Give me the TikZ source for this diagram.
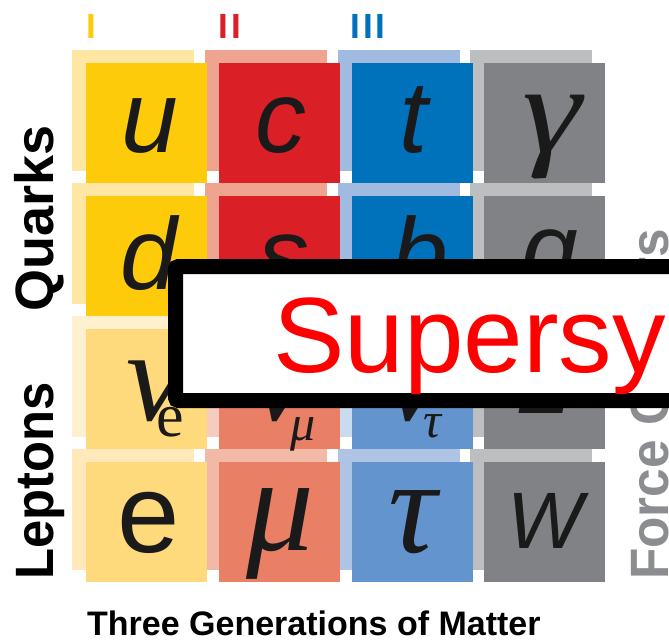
\documentclass[tikz,border=0pt]{standalone}
\usepackage{fontspec}
\setmainfont{Liberation Sans}
\newfontfamily\greekfont{Liberation Serif}

% generation colours: front squares and the lighter squares behind them
\definecolor{yQf}{HTML}{FDCB0A}\definecolor{yQb}{HTML}{FFE6A3}
\definecolor{yLf}{HTML}{FFDA7C}\definecolor{yNb}{HTML}{FFF0CF}\definecolor{yEb}{HTML}{FFE9BA}
\definecolor{rQf}{HTML}{DB1F26}\definecolor{rQb}{HTML}{EEA48E}
\definecolor{rLf}{HTML}{E97F65}\definecolor{rNb}{HTML}{F5CDBF}\definecolor{rEb}{HTML}{F3B9A7}
\definecolor{bQf}{HTML}{0071BB}\definecolor{bQb}{HTML}{A0BAE0}
\definecolor{bLf}{HTML}{6394CD}\definecolor{bNb}{HTML}{CADBF0}\definecolor{bEb}{HTML}{AFC3E4}
\definecolor{gAf}{HTML}{808285}\definecolor{gAb}{HTML}{BDBEC0}
\definecolor{forcegray}{HTML}{8C8D90}
\definecolor{glyph}{HTML}{1A1A1A}

\tikzset{
  sanslet/.style={inner sep=0pt, anchor=base, text=glyph, font=\itshape\fontsize{102}{102}\selectfont},
  wlet/.style={inner sep=0pt, anchor=base, text=glyph, font=\itshape\fontsize{80}{80}\selectfont},
  greeklet/.style={inner sep=0pt, anchor=base, text=glyph, font=\greekfont\itshape\fontsize{135}{135}\selectfont},
  nulet/.style={inner sep=0pt, anchor=base west, text=glyph, font=\greekfont\itshape\fontsize{130}{130}\selectfont},
  sublet/.style={inner sep=0pt, anchor=base west, text=glyph, font=\greekfont\itshape\fontsize{50}{50}\selectfont},
  sidelabel/.style={inner sep=0pt, anchor=base west, rotate=90, font=\bfseries\fontsize{54}{54}\selectfont},
  genlabel/.style={inner sep=0pt, anchor=base, font=\bfseries\fontsize{35}{35}\selectfont},
}

\begin{document}
\begin{tikzpicture}[x=1pt, y=-1pt]
\useasboundingbox (0,0) rectangle (669,641);
\clip (0,0) rectangle (669,641);

% lighter squares set behind and up-left of each cell
\foreach \i/\j/\c in {0/0/yQb,0/1/yQb,0/2/yNb,0/3/yEb,
                      1/0/rQb,1/1/rQb,1/2/rNb,1/3/rEb,
                      2/0/bQb,2/1/bQb,2/2/bNb,2/3/bEb,
                      3/0/gAb,3/1/gAb,3/2/gAb,3/3/gAb}{
  \pgfmathsetmacro\cx{86+132.8*\i-14}
  \pgfmathsetmacro\cy{63+133*\j-13}
  \fill[\c] (\cx,\cy) rectangle ++(122,121);
}
% front squares
\foreach \i/\j/\c in {0/0/yQf,0/1/yQf,0/2/yLf,0/3/yLf,
                      1/0/rQf,1/1/rQf,1/2/rLf,1/3/rLf,
                      2/0/bQf,2/1/bQf,2/2/bLf,2/3/bLf,
                      3/0/gAf,3/1/gAf,3/2/gAf,3/3/gAf}{
  \pgfmathsetmacro\cx{86+132.8*\i}
  \pgfmathsetmacro\cy{63+133*\j}
  \fill[\c] (\cx,\cy) rectangle ++(121,120);
}

% quarks
\node[sanslet] (up)    at (150,152) {u};
\node[sanslet] (charm) at (281,152) {c};
\node[sanslet] (top)   at (414,152) {t};
\node[greeklet, font=\greekfont\itshape\fontsize{125}{125}\selectfont] (photon) at (552,152) {\scalebox{1.2}[1]{γ}};
\node[sanslet] (down)    at (149,289) {d};
\node[sanslet] (strange) at (284,289) {s};
\node[sanslet] (bottom)  at (420,289) {b};
\node[sanslet] (gluon)   at (550,284) {g};

% neutrinos
\node[nulet] (nue)   at (126,420) {ν};
\node[inner sep=0pt, anchor=base west, text=glyph, font=\greekfont\fontsize{62}{62}\selectfont] (nuesub) at (156,436) {e};
\node[nulet] (numu)  at (251,420) {ν};
\node[sublet] (numusub) at (290,440) {μ};
\node[nulet] (nutau) at (384,420) {ν};
\node[sublet] (nutausub) at (423,437) {τ};
\node[wlet] (zboson) at (545,413) {Z};

% charged leptons
\node[inner sep=0pt, anchor=base, text=glyph, font=\fontsize{112}{112}\selectfont] (electron) at (149,552) {e};
\node[greeklet] (muon) at (280,550) {μ};
\node[greeklet] (tau)  at (413,552) {τ};
\node[wlet] (wboson) at (545,548) {W};

% generation numerals
\node[genlabel, text=yQf] (genI)   at (91,38)  {I};
\node[genlabel, text=rQf] (genII)  at (230,38) {I\kern3pt I};
\node[genlabel, text=bQf] (genIII) at (368,38) {I\kern2.5pt I\kern2.5pt I};

% side and bottom captions
\node[sidelabel] (quarks)  at (53,312) {Quarks};
\node[sidelabel] (leptons) at (53,580) {\scalebox{0.94}[1]{Leptons}};
\node[sidelabel, text=forcegray] (forces) at (668,580) {\scalebox{0.95}[1]{Force Carriers}};
\node[inner sep=0pt, anchor=base west, font=\bfseries\fontsize{34}{34}\selectfont] (matter) at (87,635) {Three Generations of Matter};

% banner laid over the table
\draw[line width=15pt, fill=white, rounded corners=3pt] (175.5,266.5) rectangle (720,400.5);
\node[inner sep=0pt, anchor=base west, text=red, font=\fontsize{107}{107}\selectfont] (banner) at (273,372) {Supersy};
\end{tikzpicture}
\end{document}
